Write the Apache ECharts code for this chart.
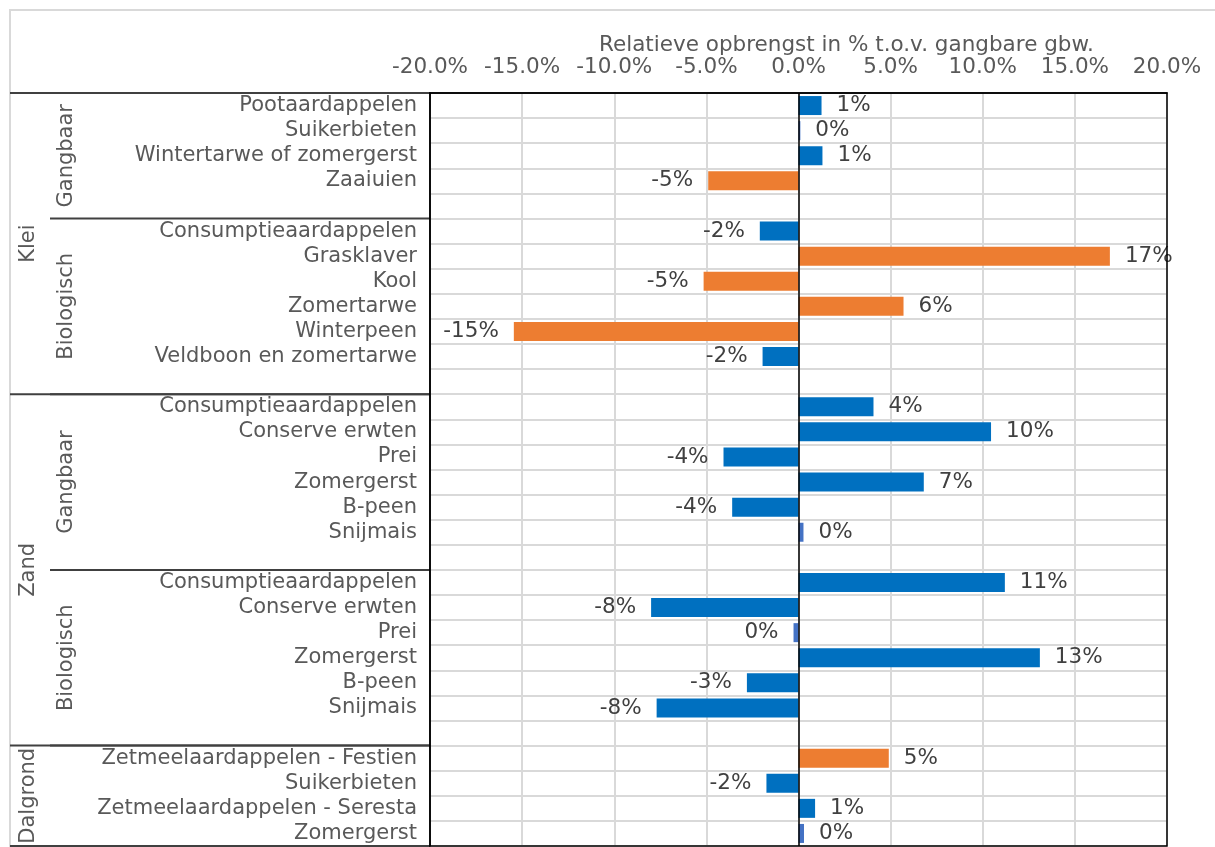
<!DOCTYPE html>
<html>
<head>
<meta charset="utf-8">
<script src="https://cdn.jsdelivr.net/npm/echarts@6/dist/echarts.min.js"></script>
<style>
  html, body { margin: 0; padding: 0; background: #fff; }
  #chart { width: 1215px; height: 847px; }
</style>
</head>
<body>
<div id="chart"></div>
<script>
// rijen van boven naar beneden, lege rij ('') tussen de groepen
var gewassen = [
  'Pootaardappelen', 'Suikerbieten', 'Wintertarwe of zomergerst', 'Zaaiuien', '',
  'Consumptieaardappelen', 'Grasklaver', 'Kool', 'Zomertarwe', 'Winterpeen', 'Veldboon en zomertarwe', '',
  'Consumptieaardappelen', 'Conserve erwten', 'Prei', 'Zomergerst', 'B-peen', 'Snijmais', '',
  'Consumptieaardappelen', 'Conserve erwten', 'Prei', 'Zomergerst', 'B-peen', 'Snijmais', '',
  'Zetmeelaardappelen - Festien', 'Suikerbieten', 'Zetmeelaardappelen - Seresta', 'Zomergerst'
]
// relatieve opbrengst in %
var opbrengst = [
  1.25, 0.1, 1.3, -4.9, null,
  -2.1, 16.9, -5.15, 5.7, -15.45, -1.95, null,
  4.07, 10.45, -4.07, 6.8, -3.6, 0.27, null,
  11.2, -8.0, -0.27, 13.1, -2.8, -7.7, null,
  4.9, -1.74, 0.9, 0.3
]
// rijen met oranje balk
var oranjeRijen = [3, 6, 7, 8, 9, 26]
// rijen met standaard (lichtere) blauwe balk
var standaardRijen = [1, 17, 21, 29]
var asTicks = [-20, -15, -10, -5, 0, 5, 10, 15, 20]

// groepen op basis van rij-index
var grondsoorten = [
  { naam: 'Klei', van: 0, tot: 11 },
  { naam: 'Zand', van: 12, tot: 25 },
  { naam: 'Dalgrond', van: 26, tot: 29 }
]
var teeltwijzen = [
  { naam: 'Gangbaar', van: 0, tot: 4 },
  { naam: 'Biologisch', van: 5, tot: 11 },
  { naam: 'Gangbaar', van: 12, tot: 18 },
  { naam: 'Biologisch', van: 19, tot: 25 }
]

var font = "'DejaVu Sans', Verdana, sans-serif"
var chart = echarts.init(document.getElementById('chart'))

var barData = opbrengst.map(function (v, i) {
  if (v == null) return '-'
  var kleur = '#0070C0'
  if (oranjeRijen.indexOf(i) >= 0) kleur = '#ED7D31'
  if (standaardRijen.indexOf(i) >= 0) kleur = '#4472C4'
  return {
    value: v,
    itemStyle: { color: kleur },
    label: { position: v < 0 ? 'left' : 'right' }
  }
})

chart.setOption({
  animation: false,
  title: {
    text: 'Relatieve opbrengst in % t.o.v. gangbare gbw.',
    left: 594,
    top: 29,
    textStyle: { fontFamily: font, fontSize: 21.5, fontWeight: 'normal', color: '#595959' }
  },
  grid: {
    left: 430,
    right: 48,
    top: 93,
    bottom: 1,
    containLabel: false
  },
  xAxis: {
    type: 'value',
    position: 'top',
    min: asTicks[0],
    max: asTicks[asTicks.length - 1],
    interval: asTicks[1] - asTicks[0],
    axisLine: { show: true, lineStyle: { color: '#000', width: 1.5 } },
    axisTick: { show: false },
    axisLabel: {
      margin: 15,
      fontFamily: font,
      fontSize: 21.5,
      color: '#595959',
      formatter: function (v) { return v.toFixed(1) + '%' }
    },
    splitLine: { show: true, lineStyle: { color: '#d9d9d9', width: 2 } }
  },
  yAxis: {
    type: 'category',
    inverse: true,
    data: gewassen,
    axisLine: { show: true, onZero: false, lineStyle: { color: '#000', width: 1.5 } },
    axisTick: { show: false },
    axisLabel: {
      interval: 0,
      margin: 13,
      fontFamily: font,
      fontSize: 21,
      color: '#595959'
    },
    splitLine: { show: true, interval: 0, lineStyle: { color: '#d9d9d9', width: 2 } }
  },
  series: [
    {
      type: 'bar',
      data: barData,
      barWidth: 19,
      label: {
        show: true,
        distance: 15,
        fontFamily: font,
        fontSize: 21.5,
        color: '#404040',
        formatter: function (p) { return Math.round(p.value) + '%' }
      },
      markLine: {
        silent: true,
        symbol: 'none',
        label: { show: false },
        lineStyle: { color: '#000', width: 1.5, type: 'solid' },
        data: [{ xAxis: 0 }]
      }
    }
  ]
})

// groepslabels en scheidingslijnen links, posities via de categorie-as
function rijRand(i) {
  var c0 = chart.convertToPixel({ yAxisIndex: 0 }, 0)
  var c1 = chart.convertToPixel({ yAxisIndex: 0 }, 1)
  var half = (c1 - c0) / 2
  return chart.convertToPixel({ yAxisIndex: 0 }, i) - half
}

var xl = chart.convertToPixel({ xAxisIndex: 0 }, asTicks[0])
var xr = chart.convertToPixel({ xAxisIndex: 0 }, asTicks[asTicks.length - 1])
var yt = rijRand(0)
var yb = rijRand(gewassen.length)

var elements = [
  // lichtgrijze kaderrand van de grafiek
  { type: 'rect', shape: { x: 10, y: 10, width: 1220, height: 900 },
    style: { fill: 'none', stroke: '#d9d9d9', lineWidth: 2 }, silent: true },
  // zwarte rand om het plotgebied
  { type: 'rect', z: 10, shape: { x: xl, y: yt, width: xr - xl, height: yb - yt },
    style: { fill: 'none', stroke: '#000', lineWidth: 1.5 }, silent: true }
]
var lijnKleur = '#404040'
elements.push({ type: 'line', shape: { x1: 10, y1: yt, x2: xl, y2: yt },
  style: { stroke: lijnKleur, lineWidth: 2 } })

grondsoorten.forEach(function (g) {
  var y1 = rijRand(g.van), y2 = rijRand(g.tot + 1)
  elements.push({ type: 'line', shape: { x1: 10, y1: y2, x2: xl, y2: y2 },
    style: { stroke: lijnKleur, lineWidth: 2 } })
  elements.push({
    type: 'text', x: 29, y: (y1 + y2) / 2, rotation: Math.PI / 2,
    style: { text: g.naam, font: '21px ' + font, fill: '#595959', align: 'center', verticalAlign: 'middle' }
  })
})
teeltwijzen.forEach(function (t) {
  var y1 = rijRand(t.van), y2 = rijRand(t.tot + 1)
  elements.push({ type: 'line', shape: { x1: 50, y1: y2, x2: xl, y2: y2 },
    style: { stroke: lijnKleur, lineWidth: 2 } })
  elements.push({
    type: 'text', x: 67, y: (y1 + y2) / 2, rotation: Math.PI / 2,
    style: { text: t.naam, font: '21px ' + font, fill: '#595959', align: 'center', verticalAlign: 'middle' }
  })
})
chart.setOption({ graphic: { elements: elements } })
</script>
</body>
</html>
